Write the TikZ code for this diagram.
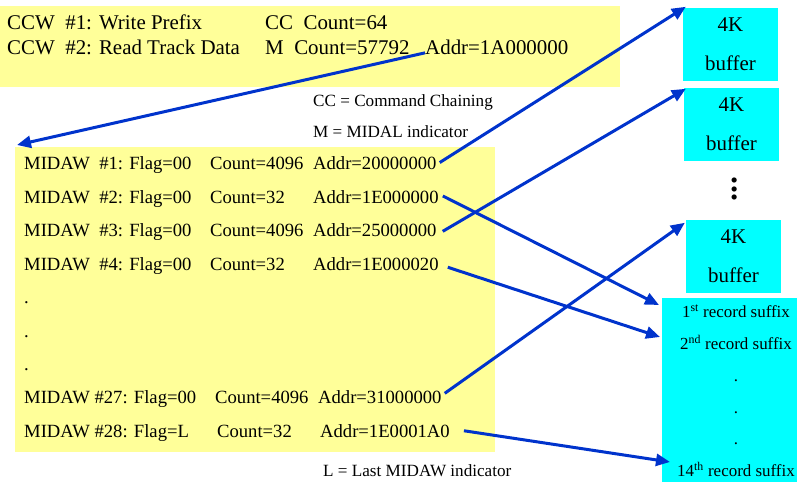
\documentclass[tikz,border=0pt]{standalone}
\usepackage{fontspec}
\setmainfont{Liberation Serif}
\usetikzlibrary{arrows.meta}

\definecolor{paleyellow}{RGB}{255,255,153}
\definecolor{buffcyan}{RGB}{0,255,255}
\definecolor{linkblue}{RGB}{0,51,204}

\begin{document}
\begin{tikzpicture}[x=1bp, y=-1bp,
	link/.style={-{Triangle[length=14bp,width=12bp]}, line width=3bp, draw=linkblue},
	panel/.style={fill=paleyellow, inner sep=0pt, anchor=north west},
	big/.style={font=\fontsize{21}{25}\selectfont, inner sep=0pt, anchor=base west},
	row/.style={font=\fontsize{18.7}{22}\selectfont, inner sep=0pt, anchor=base west},
	note/.style={font=\fontsize{17.2}{20}\selectfont, inner sep=0pt, anchor=base west},
	buffer/.style={fill=buffcyan, minimum width=95bp, minimum height=73bp, inner sep=0pt,
		align=center, font=\fontsize{21}{39}\selectfont},
	suffix/.style={font=\fontsize{17}{20}\selectfont, inner sep=0pt, anchor=base}] 

	\useasboundingbox (0,0) rectangle (797,482);

	% channel program
	\node[panel, minimum width=620bp, minimum height=81bp] (ccws) at (0,6) {};
	\node[big] (ccw1) at (7,30) {CCW~~\#1: Write Prefix};
	\node[big] (cc1) at (265,30) {CC~~Count=64};
	\node[big] (ccw2) at (7,55) {CCW~~\#2: Read Track Data};
	\node[big] (cc2) at (265,55) {M~~Count=57792};
	\node[big] (ccwaddr) at (425,55) {Addr=1A000000};

	\node[note] (ccnote) at (313,107) {CC = Command Chaining};
	\node[note] (mnote) at (313,138) {M = MIDAL indicator};

	% MIDAW list
	\node[panel, minimum width=480bp, minimum height=305bp] (midaws) at (15,147) {};
	\node[row] (m1) at (24,170) {\makebox[186bp][l]{MIDAW~~\#1: Flag=00}\makebox[103bp][l]{Count=4096}Addr=20000000};
	\node[row] (m2) at (24,203.4) {\makebox[186bp][l]{MIDAW~~\#2: Flag=00}\makebox[103bp][l]{Count=32}Addr=1E000000};
	\node[row] (m3) at (24,236.8) {\makebox[186bp][l]{MIDAW~~\#3: Flag=00}\makebox[103bp][l]{Count=4096}Addr=25000000};
	\node[row] (m4) at (24,270.2) {\makebox[186bp][l]{MIDAW~~\#4: Flag=00}\makebox[103bp][l]{Count=32}Addr=1E000020};
	\foreach \y [count=\i] in {303.6,337,370.4}
		\node[row] (gap\i) at (24,\y) {.};
	\node[row] (m27) at (24,403.8) {\makebox[191bp][l]{MIDAW \#27: Flag=00}\makebox[103bp][l]{Count=4096}Addr=31000000};
	\node[row] (m28) at (24,437.2) {\makebox[193bp][l]{MIDAW \#28: Flag=L}\makebox[103bp][l]{Count=32}Addr=1E0001A0};

	\node[note] (lnote) at (323,476) {L = Last MIDAW indicator};

	% data areas
	\node[buffer] (buf1) at (730.5,44.5) {4K\\buffer};
	\node[buffer] (buf2) at (731.5,124.5) {4K\\buffer};
	\node[rotate=-90, font=\fontsize{32}{32}\selectfont\bfseries, inner sep=0pt] (more) at (735,189) {.\kern1bp.\kern1bp.};
	\node[buffer] (buf3) at (733.5,256.5) {4K\\buffer};

	\node[fill=buffcyan, minimum width=135bp, minimum height=184bp, inner sep=0pt, anchor=north west] (records) at (662,298) {};
	\node[suffix] (rec1) at (736,318) {1\textsuperscript{st} record suffix};
	\node[suffix] (rec2) at (736,349.7) {2\textsuperscript{nd} record suffix};
	\foreach \y [count=\i] in {381.4,413.1,444.8}
		\node[suffix] (recgap\i) at (736,\y) {.};
	\node[suffix] (rec14) at (736,476.5) {14\textsuperscript{th} record suffix};

	% pointers
	\draw[link] ([shift={(0,5)}]ccwaddr.west) -- ([shift={(2,-2)}]midaws.north west);
	\draw[link] ([shift={(3,-3)}]m1.east) -- ([shift={(3,-1)}]buf1.north west);
	\draw[link] ([shift={(4,-3)}]m2.east) -- ([shift={(-3,7)}]records.north west);
	\draw[link] ([shift={(6,-1)}]m3.east) -- ([shift={(2,1)}]buf2.north west);
	\draw[link] ([shift={(9,1.5)}]m4.east) -- ([shift={(-2,39)}]records.north west);
	\draw[link] ([shift={(3,-6)}]m27.east) -- ([shift={(-1,3)}]buf3.north west);
	\draw[link] ([shift={(14,-2)}]m28.east) -- ([shift={(8,164)}]records.north west);

\end{tikzpicture}
\end{document}
